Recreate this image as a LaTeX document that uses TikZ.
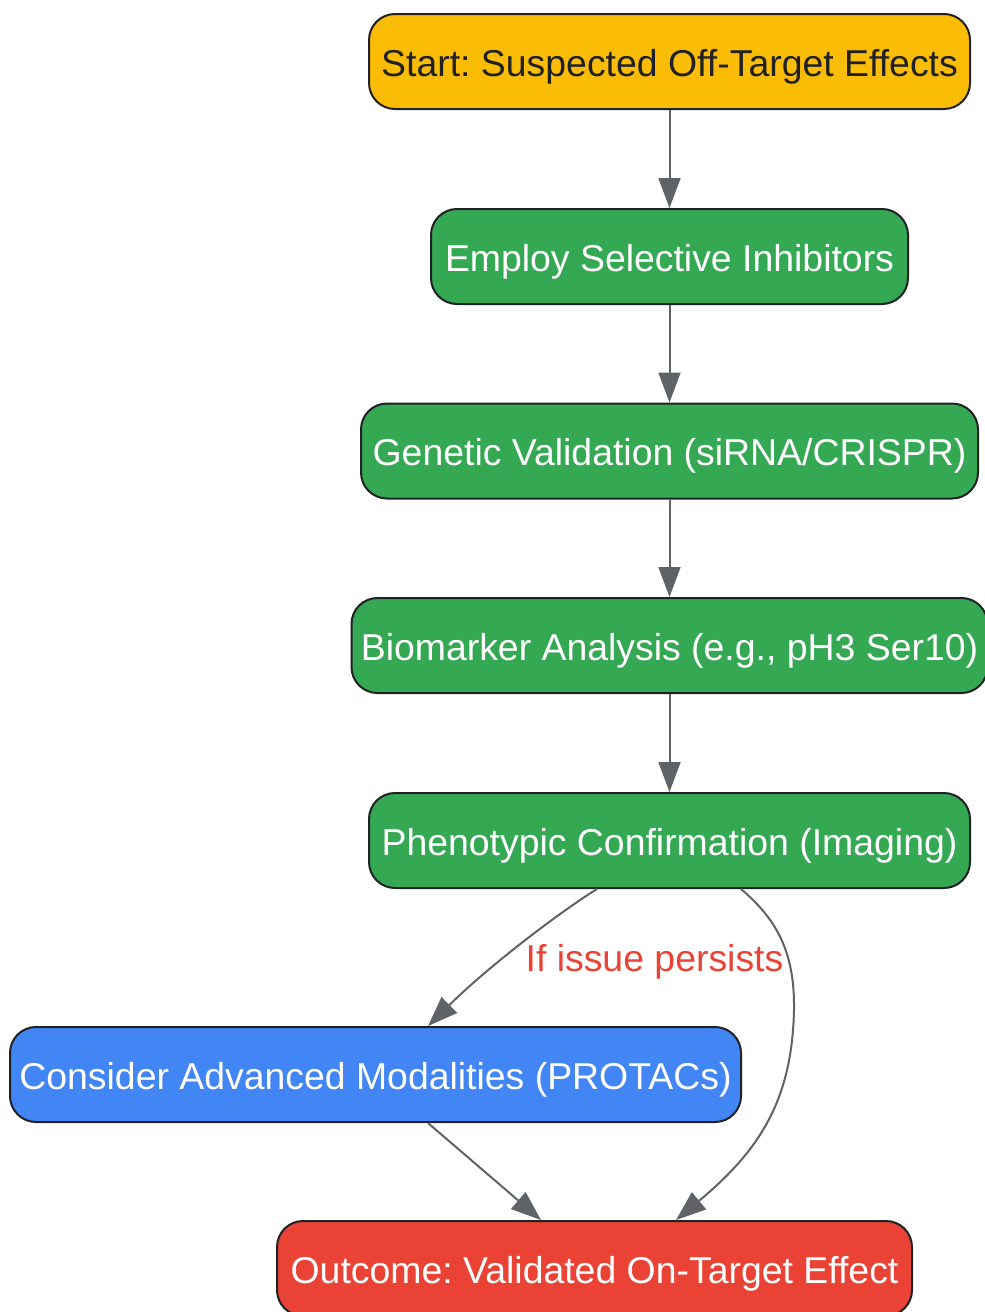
\documentclass[tikz,border=0pt]{standalone}
\usepackage{fontspec}
\setmainfont{Liberation Sans}
\usetikzlibrary{arrows.meta}
\definecolor{cyellow}{HTML}{FBBC05}
\definecolor{cgreen}{HTML}{34A853}
\definecolor{cblue}{HTML}{4285F4}
\definecolor{cred}{HTML}{EA4335}
\definecolor{cdark}{HTML}{202124}
\definecolor{cedge}{HTML}{5F6368}
\frenchspacing
\begin{document}
\begin{tikzpicture}[x=1pt,y=-1pt,
  box/.style={draw=cdark, line width=2pt, rounded corners=26pt, minimum height=95pt,
    inner sep=0pt, text height=36.5pt, text depth=7pt,
    font=\fontsize{37.4}{44}\selectfont, text=white},
  edge/.style={draw=cedge, line width=2pt, -{Triangle[length=30pt,width=22pt]}},
  lbl/.style={font=\fontsize{37.4}{44}\selectfont, text=cred, inner sep=0pt}]
\useasboundingbox (0,0) rectangle (985,1312);
\node[box, fill=cyellow, text=cdark, minimum width=601pt] (st) at (669.5,61.5) {Start: Suspected Off-Target Effects};
\node[box, fill=cgreen, minimum width=477pt] (em) at (669.5,256.5) {Employ Selective Inhibitors};
\node[box, fill=cgreen, minimum width=617pt] (ge) at (669.5,451) {Genetic Validation (siRNA/CRISPR)};
\node[box, fill=cgreen, minimum width=636pt] (bi) at (669.5,645.5) {Biomarker Analysis (e.g., pH3 Ser10)};
\node[box, fill=cgreen, minimum width=601pt] (ph) at (669.5,840.5) {Phenotypic Confirmation (Imaging)};
\node[box, fill=cblue, minimum width=731pt] (co) at (375.5,1074.5) {Consider Advanced Modalities (PROTACs)};
\node[box, fill=cred, minimum width=635pt] (ou) at (594.5,1268.5) {Outcome: Validated On-Target Effect};
\node[lbl] (lb) at (654.5,962) {If issue persists};
\draw[edge] (st) -- (em);
\draw[edge] (em) -- (ge);
\draw[edge] (ge) -- (bi);
\draw[edge] (bi) -- (ph);
\draw[edge] ([xshift=-72.5pt]ph.south) .. controls (560,912) and (490,965) .. ([xshift=52.5pt]co.north);
\draw[edge] ([xshift=71.5pt]ph.south) .. controls (775,918) and (795,950) .. (794,1010)
  .. controls (792,1100) and (760,1150) .. ([xshift=81.5pt]ou.north);
\draw[edge] ([xshift=52.5pt]co.south) -- ([xshift=-53.5pt]ou.north);
\end{tikzpicture}
\end{document}
